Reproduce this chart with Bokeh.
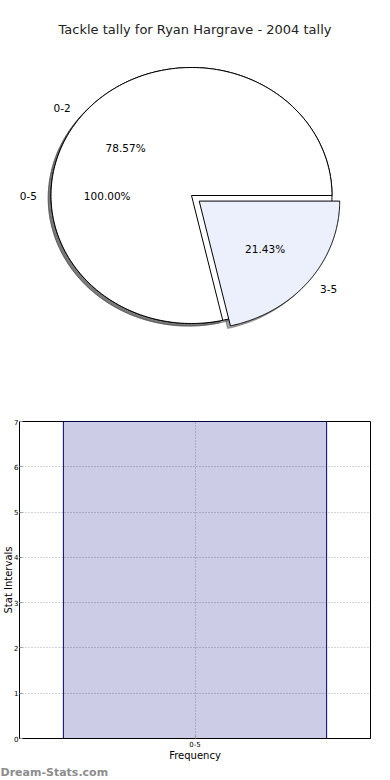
import numpy as np
from bokeh.plotting import figure
from bokeh.layouts import column
from bokeh.models import Range1d, FactorRange, ColumnDataSource, LabelSet, Title, FixedTicker
from bokeh.core.properties import value
from bokeh.embed import file_html
from bokeh.resources import INLINE

# ---------------- data ----------------
title_text = "Tackle tally for Ryan Hargrave - 2004 tally"
outer_labels = ["0-5"]
outer_values = [100.0]
outer_colors = ["#ffffff"]
pie_labels = ["0-2", "3-5"]
pie_values = [78.57, 21.43]
pie_explode = [0.0, 0.07]
pie_colors = ["#ffffff", "#ebf0fc"]

bar_categories = ["0-5"]
bar_values = [7]
y_ticks = [0, 1, 2, 3, 4, 5, 6, 7]

FONT = "DejaVu Sans"

# ---------------- layout constants (pixels) ----------------
W = 382                     # width of both figures
FL, FR = 19, 370            # frame left / right (shared by both figures)
H1, TOP1 = 380, 40          # pie figure height, space for the title
CX, CY = 191, 195           # pie centre
RX, RY = 140.5, 128.0       # pie radii (elliptic as in the original)

# ---------------- pie figure ----------------
p1 = figure(width=W, height=H1, output_backend="svg", toolbar_location=None,
            x_axis_location=None, y_axis_location=None,
            min_border_left=FL, min_border_right=W - FR, min_border_bottom=0,
            min_border_top=TOP1,
            x_range=Range1d((FL - CX) / RX, (FR - CX) / RX),
            y_range=Range1d((CY - H1) / RY, (CY - TOP1) / RY))
p1.grid.visible = False
p1.outline_line_color = None
p1.title.text = title_text
p1.title.align = "center"
p1.title.text_font = FONT
p1.title.text_font_size = "13px"
p1.title.text_font_style = "normal"
p1.title.text_color = "#222222"
p1.title.standoff = 8


def wedge(theta1, theta2, ox, oy, n=200):
    t = np.radians(np.linspace(theta1, theta2, n))
    xs = np.concatenate([[ox], ox + np.cos(t), [ox]])
    ys = np.concatenate([[oy], oy + np.sin(t), [oy]])
    return xs, ys


def pie_geometry(vals, explode):
    total = float(sum(vals))
    out = []
    a = 0.0
    for v, e in zip(vals, explode):
        a2 = a + 360.0 * v / total
        mid = np.radians((a + a2) / 2)
        ox, oy = e * np.cos(mid), e * np.sin(mid)
        out.append((a, a2, ox, oy, mid, e, v / total))
        a = a2
    return out


outer_geo = pie_geometry(outer_values, [0.0])
inner_geo = pie_geometry(pie_values, pie_explode)

# shadows first (below all wedges)
shadow_off = -0.02
for geo, cols in ((outer_geo, outer_colors), (inner_geo, pie_colors)):
    for (a1, a2, ox, oy, mid, e, frac), c in zip(geo, cols):
        xs, ys = wedge(a1, a2, ox + shadow_off, oy + shadow_off)
        p1.patch(xs, ys, fill_color="#4d4d4d", fill_alpha=0.5,
                 line_color="#4d4d4d", line_alpha=0.5, line_width=1)

for geo, cols in ((outer_geo, outer_colors), (inner_geo, pie_colors)):
    for (a1, a2, ox, oy, mid, e, frac), c in zip(geo, cols):
        if a2 - a1 >= 359.99:
            t = np.radians(np.linspace(0, 360, 400))
            xs, ys = ox + np.cos(t), oy + np.sin(t)
        else:
            xs, ys = wedge(a1, a2, ox, oy)
        p1.patch(xs, ys, fill_color=c, line_color="black", line_width=1)

for geo, labs in ((outer_geo, outer_labels), (inner_geo, pie_labels)):
    for (a1, a2, ox, oy, mid, e, frac), lab in zip(geo, labs):
        lx = ox + 1.1 * np.cos(mid)
        ly = oy + 1.1 * np.sin(mid)
        align = "right" if np.cos(mid) < -1e-6 else "left"
        p1.text(x=[lx], y=[ly], text=[lab], text_align=align, text_baseline="middle",
                text_font=value(FONT), text_font_size="10.5px", text_color="black")
        px = ox + 0.6 * np.cos(mid)
        py = oy + 0.6 * np.sin(mid)
        p1.text(x=[px], y=[py], text=["%.2f%%" % (frac * 100)], text_align="center",
                text_baseline="middle", text_font=value(FONT), text_font_size="10.5px",
                text_color="black")

# ---------------- bar figure ----------------
src = ColumnDataSource(dict(cat=bar_categories, val=bar_values,
                            txt=[str(v) for v in bar_values]))
p2 = figure(width=W, height=398, output_backend="svg", toolbar_location=None,
            x_range=FactorRange(factors=bar_categories, range_padding=0),
            y_range=Range1d(0, 7),
            min_border_top=421 - H1, min_border_right=W - FR, min_border_left=FL,
            min_border_bottom=0)
p2.vbar(x="cat", top="val", width=0.75, source=src, fill_color="navy", fill_alpha=0.2,
        line_color="navy", line_width=1)
p2.add_layout(LabelSet(x="cat", y="val", text="txt", source=src, y_offset=3,
                       text_align="center", text_baseline="bottom", text_color="navy",
                       text_font=value(FONT), text_font_size="10px"))
p2.outline_line_color = "black"
p2.outline_line_width = 1
p2.yaxis.ticker = FixedTicker(ticks=y_ticks)
p2.yaxis.minor_tick_line_color = None
for ax in (p2.xaxis[0], p2.yaxis[0]):
    ax.major_label_text_font = FONT
    ax.major_label_text_font_size = "7px"
    ax.major_label_text_color = "black"
    ax.axis_label_text_font = FONT
    ax.axis_label_text_font_size = "10px"
    ax.axis_label_text_font_style = "normal"
    ax.axis_label_text_color = "black"
    ax.axis_line_color = "black"
    ax.major_tick_in = 3
    ax.major_tick_out = 0
    ax.major_tick_line_color = "#999999"
p2.xaxis.major_label_standoff = 2
p2.xaxis.axis_label_standoff = 0
p2.yaxis.major_label_standoff = 1
p2.yaxis.axis_label_standoff = -3
p2.yaxis.axis_label = "Stat Intervals"
p2.xaxis.axis_label = "Frequency"
p2.grid.grid_line_color = "#aaaaaa"
p2.grid.grid_line_dash = "1 2"
p2.grid.grid_line_width = 1

wm = Title(text="Dream-Stats.com", align="left", text_font=FONT, text_font_size="11px",
           text_font_style="bold", text_color="#8c8c8c", standoff=0, offset=-FL)
p2.add_layout(wm, "below")

layout = column(p1, p2, spacing=0)
open("out.html", "w").write(file_html(layout, INLINE))
